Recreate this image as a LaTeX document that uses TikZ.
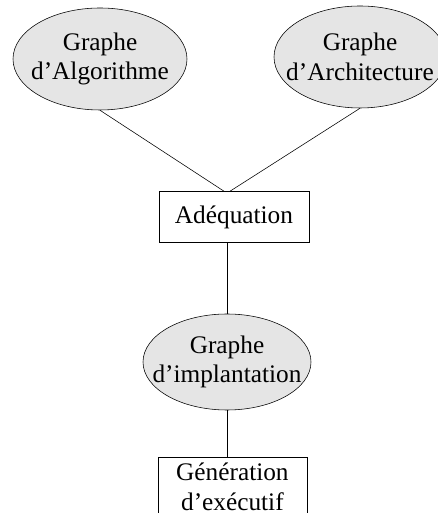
\documentclass[tikz,border=0pt]{standalone}
\usepackage{fontspec}
\setmainfont{Liberation Serif}
\usetikzlibrary{shapes.geometric}

\begin{document}
\begin{tikzpicture}[every node/.style={font=\fontsize{18}{21}\selectfont, align=center},
	every label/.style={font=\fontsize{18}{21}\selectfont, align=center},
	graphe/.style={draw, ellipse, fill=gray!20, inner sep=0pt},
	etape/.style={draw, rectangle}]
	\useasboundingbox (0,0) rectangle (10.95,12.825);
	\begin{scope}
	\clip (0,0) rectangle (10.95,12.825);
	\node[graphe, minimum width=4.35cm, minimum height=2.55cm, label=center:{Graphe\\d’Algorithme}] (alg) at (2.5,11.35) {};
	\node[graphe, minimum width=4.3cm, minimum height=2.55cm, label=center:{Graphe\\d’Architecture}] (arch) at (9.0,11.4) {};
	\node[etape, minimum width=3.75cm, minimum height=1.275cm] (ade) at (5.85,7.4) {Adéquation};
	\node[graphe, minimum width=4.2cm, minimum height=2.4cm, label=center:{Graphe\\d’implantation}] (impl) at (5.675,3.775) {};
	\node[etape, minimum width=3.725cm, anchor=north, inner ysep=0.15cm] (gen) at (5.81,1.4) {Génération\\d’exécutif};
	\draw (alg.south) -- ([xshift=-0.25cm]ade.north);
	\draw (arch.south) -- ([xshift=-0.1cm]ade.north);
	\draw (impl.north |- ade.south) -- (impl.north);
	\draw (impl.south) -- (impl.south |- gen.north);
	\end{scope}
\end{tikzpicture}
\end{document}
